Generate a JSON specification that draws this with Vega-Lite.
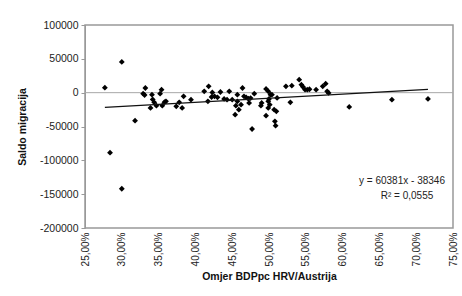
{
  "$schema": "https://vega.github.io/schema/vega-lite/v6.json",
  "autosize": {"type": "none"},
  "padding": {"left": 85, "top": 25, "right": 9, "bottom": 68},
  "width": 368,
  "height": 203,
  "background": "white",
  "config": {
    "font": "Liberation Sans",
    "view": {"stroke": "#999999", "strokeWidth": 1.5},
    "locale": {"number": {"decimal": ",", "thousands": ".", "grouping": [3], "currency": ["", " €"], "minus": "-"}},
    "axis": {"labelFont": "Liberation Sans", "labelFontSize": 10, "labelColor": "#222", "titleFont": "Liberation Sans", "titleFontSize": 10.5, "titleFontWeight": "bold", "titleColor": "#111", "grid": false, "domainColor": "#999999", "tickColor": "#999999", "labelOverlap": false, "labelFlush": false, "labelBound": false},
    "axisX": {"labelAngle": 270, "labelAlign": "right", "labelBaseline": "middle", "ticks": false, "domain": false, "labelPadding": 4, "titlePadding": 6},
    "axisY": {"labelFontSize": 10.5, "tickSize": 4, "labelPadding": 3, "titlePadding": 12}
  },
  "datasets": {
    "pts": [
      {"ratio": 0.277, "saldo": 7400}, {"ratio": 0.284, "saldo": -88700}, {"ratio": 0.300, "saldo": 45400},
      {"ratio": 0.300, "saldo": -142000}, {"ratio": 0.318, "saldo": -41400}, {"ratio": 0.332, "saldo": 6900},
      {"ratio": 0.329, "saldo": -1500}, {"ratio": 0.331, "saldo": -3500}, {"ratio": 0.341, "saldo": -3000},
      {"ratio": 0.342, "saldo": -10000}, {"ratio": 0.339, "saldo": -22600}, {"ratio": 0.347, "saldo": -19200},
      {"ratio": 0.344, "saldo": -14300}, {"ratio": 0.354, "saldo": 4400}, {"ratio": 0.352, "saldo": -1500},
      {"ratio": 0.355, "saldo": -19200}, {"ratio": 0.360, "saldo": -12800}, {"ratio": 0.358, "saldo": -14000},
      {"ratio": 0.374, "saldo": -20200}, {"ratio": 0.378, "saldo": -14300}, {"ratio": 0.382, "saldo": -22600},
      {"ratio": 0.384, "saldo": -5400}, {"ratio": 0.394, "saldo": -10300}, {"ratio": 0.412, "saldo": 2000},
      {"ratio": 0.418, "saldo": 9300}, {"ratio": 0.417, "saldo": -12800}, {"ratio": 0.423, "saldo": 400},
      {"ratio": 0.422, "saldo": -6400}, {"ratio": 0.426, "saldo": -5400}, {"ratio": 0.430, "saldo": -6900},
      {"ratio": 0.434, "saldo": 1000}, {"ratio": 0.439, "saldo": -9300}, {"ratio": 0.443, "saldo": -10300},
      {"ratio": 0.446, "saldo": 2000}, {"ratio": 0.450, "saldo": -10300}, {"ratio": 0.455, "saldo": -19200},
      {"ratio": 0.457, "saldo": -3000}, {"ratio": 0.459, "saldo": -25100}, {"ratio": 0.454, "saldo": -32500},
      {"ratio": 0.462, "saldo": -17700}, {"ratio": 0.464, "saldo": 6900}, {"ratio": 0.466, "saldo": -5400},
      {"ratio": 0.469, "saldo": -7000}, {"ratio": 0.472, "saldo": -9000}, {"ratio": 0.475, "saldo": -8000},
      {"ratio": 0.473, "saldo": -15200}, {"ratio": 0.480, "saldo": -1500}, {"ratio": 0.457, "saldo": -12800},
      {"ratio": 0.477, "saldo": -53700}, {"ratio": 0.490, "saldo": -15200}, {"ratio": 0.489, "saldo": -19200},
      {"ratio": 0.496, "saldo": 5500}, {"ratio": 0.499, "saldo": 2000}, {"ratio": 0.500, "saldo": -9300},
      {"ratio": 0.502, "saldo": -3000}, {"ratio": 0.499, "saldo": -12800}, {"ratio": 0.501, "saldo": -17700},
      {"ratio": 0.496, "saldo": -34000}, {"ratio": 0.499, "saldo": -22600}, {"ratio": 0.507, "saldo": -25100},
      {"ratio": 0.510, "saldo": -27600}, {"ratio": 0.508, "saldo": -42400}, {"ratio": 0.509, "saldo": -48800},
      {"ratio": 0.504, "saldo": -3000}, {"ratio": 0.511, "saldo": -7800}, {"ratio": 0.523, "saldo": 9300},
      {"ratio": 0.531, "saldo": 10300}, {"ratio": 0.529, "saldo": -14300}, {"ratio": 0.541, "saldo": 19200},
      {"ratio": 0.544, "saldo": 11800}, {"ratio": 0.546, "saldo": 8800}, {"ratio": 0.549, "saldo": 4400},
      {"ratio": 0.552, "saldo": 4400}, {"ratio": 0.555, "saldo": 5000}, {"ratio": 0.564, "saldo": 4400},
      {"ratio": 0.573, "saldo": 9300}, {"ratio": 0.577, "saldo": 13300}, {"ratio": 0.579, "saldo": 2000},
      {"ratio": 0.581, "saldo": -400}, {"ratio": 0.609, "saldo": -21100}, {"ratio": 0.667, "saldo": -10300},
      {"ratio": 0.716, "saldo": -9300}
    ],
    "trend": [
      {"ratio": 0.277, "saldo": -21620},
      {"ratio": 0.716, "saldo": 4887}
    ],
    "notes": [
      {"ratio": 0.6807, "saldo": -130500, "label": "y = 60381x - 38346"},
      {"ratio": 0.6875, "saldo": -152700, "label": "R² = 0,0555"}
    ]
  },
  "encoding": {
    "x": {
      "field": "ratio", "type": "quantitative",
      "scale": {"domain": [0.25, 0.75], "nice": false, "zero": false},
      "axis": {"values": [0.25, 0.3, 0.35, 0.4, 0.45, 0.5, 0.55, 0.6, 0.65, 0.7, 0.75], "format": ".2%", "title": "Omjer BDPpc HRV/Austrija"}
    },
    "y": {
      "field": "saldo", "type": "quantitative",
      "scale": {"domain": [-200000, 100000], "nice": false},
      "axis": {"values": [-200000, -150000, -100000, -50000, 0, 50000, 100000], "format": "d", "title": "Saldo migracija"}
    }
  },
  "layer": [
    {
      "data": {"values": [{"ratio": 0.25, "ratio2": 0.75, "saldo": 0}]},
      "mark": {"type": "rule", "color": "#a8a8a8", "strokeWidth": 1},
      "encoding": {"x2": {"field": "ratio2"}}
    },
    {
      "data": {"name": "pts"},
      "mark": {"type": "point", "shape": "diamond", "filled": true, "color": "#000", "size": 34, "opacity": 1}
    },
    {
      "data": {"name": "trend"},
      "mark": {"type": "line", "color": "#111", "strokeWidth": 1.2}
    },
    {
      "data": {"name": "notes"},
      "mark": {"type": "text", "fontSize": 10, "color": "#222", "align": "center", "baseline": "middle"},
      "encoding": {"text": {"field": "label"}}
    }
  ]
}
